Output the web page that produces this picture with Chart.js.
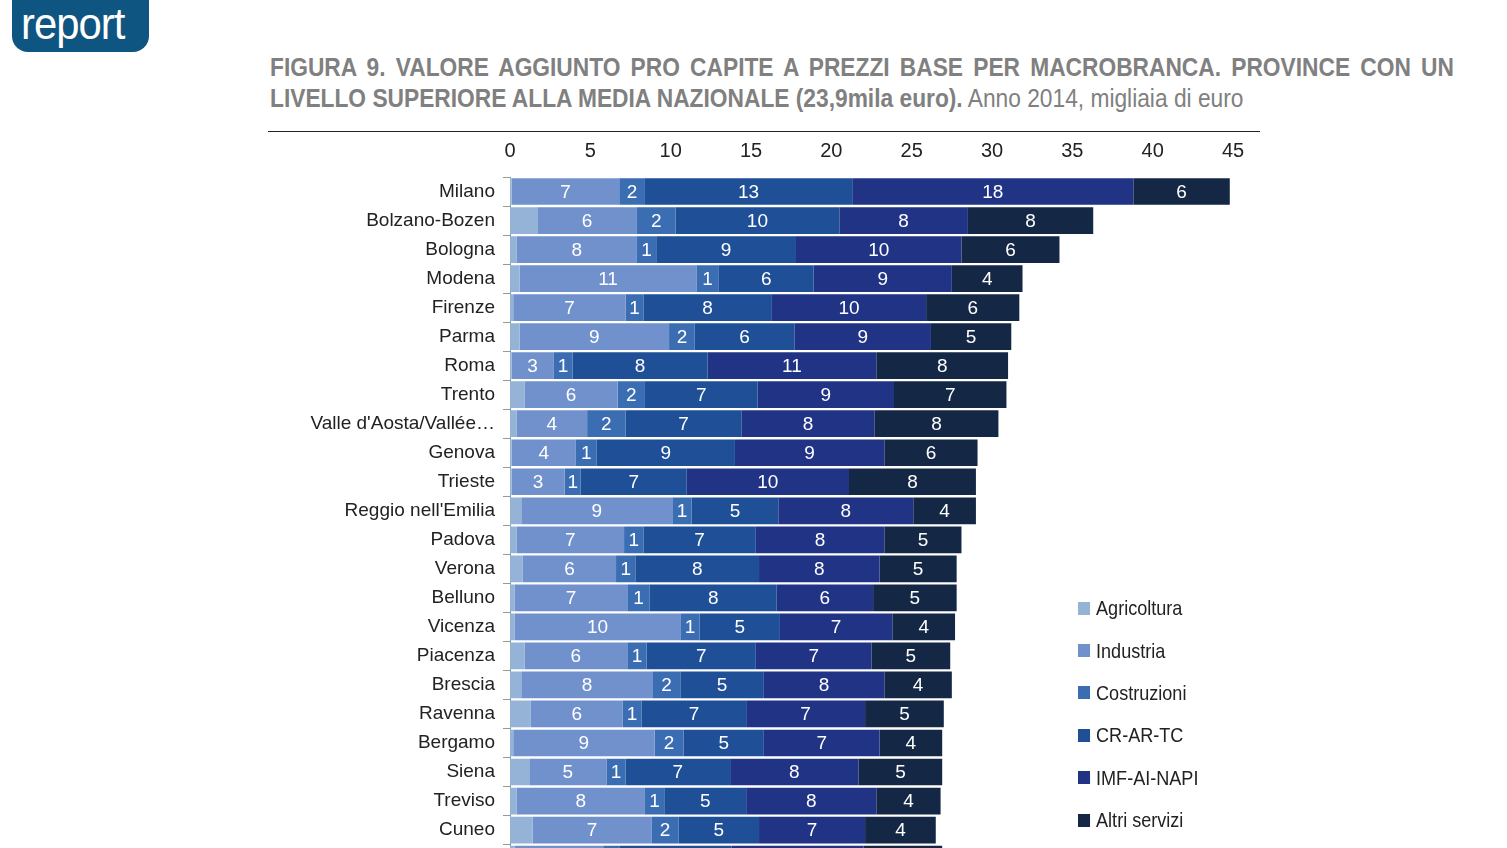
<!DOCTYPE html>
<html>
<head>
<meta charset="utf-8">
<script src="https://cdn.jsdelivr.net/npm/chart.js@4"></script>
<style>
  body { margin:0; width:1507px; height:848px; overflow:hidden; background:#fff; font-family:"Liberation Sans",Arial,sans-serif; position:relative; }
  #logo { position:absolute; left:12px; top:-20px; width:137px; height:72px; background:#0f5581; border-radius:0 0 16px 16px; color:#fff; font-weight:300; font-size:44px; line-height:1; }
  #logo span { position:absolute; left:9px; bottom:6px; letter-spacing:-1px; transform:scaleX(0.95); transform-origin:left; }
  #title { position:absolute; left:270px; top:52px; width:1301px; color:#808080; font-size:25px; line-height:31px; transform:scaleX(0.91); transform-origin:left top; white-space:nowrap; }
  #title .l1 { text-align:justify; text-align-last:justify; font-weight:bold; }
  #rule { position:absolute; left:268px; top:131px; width:992px; height:1px; background:#222; }
  #wrap { position:absolute; left:270px; top:125px; width:1000px; height:768px; }
  #legend { position:absolute; left:1078px; top:587px; font-size:21px; color:#222; transform:scaleX(0.86); transform-origin:left top; }
  #legend div { height:42.4px; display:flex; align-items:center; }
  #legend i { display:inline-block; width:14px; height:13px; margin-right:7px; }
</style>
</head>
<body>
<div id="logo"><span>report</span></div>
<div id="title">
  <div class="l1">FIGURA 9. VALORE AGGIUNTO PRO CAPITE A PREZZI BASE PER MACROBRANCA. PROVINCE CON UN</div>
  <div><b>LIVELLO SUPERIORE ALLA MEDIA NAZIONALE (23,9mila euro).</b> Anno 2014, migliaia di euro</div>
</div>
<div id="rule"></div>
<div id="wrap"><canvas id="chart"></canvas></div>
<div id="legend"></div>
<script>
const provinces = ["Milano","Bolzano-Bozen","Bologna","Modena","Firenze","Parma","Roma","Trento","Valle d'Aosta/Vallée…","Genova","Trieste","Reggio nell'Emilia","Padova","Verona","Belluno","Vicenza","Piacenza","Brescia","Ravenna","Bergamo","Siena","Treviso","Cuneo",""];
const agricoltura = [0.1,1.7,0.4,0.6,0.2,0.6,0.1,0.9,0.4,0.1,0.1,0.7,0.4,0.8,0.3,0.3,0.9,0.7,1.3,0.2,1.2,0.4,1.4,0.3];
const industria   = [6.7,6.2,7.5,11.0,7.0,9.3,2.6,5.8,4.4,4.0,3.3,9.4,6.7,5.8,7.0,10.3,6.4,8.2,5.7,8.8,4.8,8.0,7.4,5.5];
const costruzioni = [1.6,2.4,1.2,1.4,1.1,1.6,1.2,1.7,2.4,1.3,1.0,1.2,1.2,1.2,1.4,1.2,1.2,1.7,1.2,1.8,1.2,1.2,1.7,1.0];
const crArTc      = [12.9,10.2,8.7,5.9,8.0,6.2,8.4,7.0,7.2,8.6,6.6,5.4,7.0,7.7,7.9,5.0,6.8,5.2,6.5,5.0,6.5,5.1,5.0,7.0];
const imfAiNapi   = [17.5,8.0,10.3,8.6,9.6,8.5,10.5,8.5,8.3,9.3,10.1,8.4,8.0,7.5,6.0,7.0,7.2,7.5,7.4,7.2,8.0,8.1,6.6,8.2];
const altriServizi= [6.0,7.8,6.1,4.4,5.8,5.0,8.2,7.0,7.7,5.8,7.9,3.9,4.8,4.8,5.2,3.9,4.9,4.2,4.9,3.9,5.2,4.0,4.4,4.9];
const xTicks = [0,5,10,15,20,25,30,35,40,45];

const seriesNames = ["Agricoltura","Industria","Costruzioni","CR-AR-TC","IMF-AI-NAPI","Altri servizi"];
const seriesData = [agricoltura, industria, costruzioni, crArTc, imfAiNapi, altriServizi];
const colors = ["#95b3d7","#7191cd","#3b6db3","#1f4f96","#203384","#142846"];
const fontFam = '"Liberation Sans", Arial';

const legend = document.getElementById("legend");
seriesNames.forEach((n, i) => {
  legend.innerHTML += `<div><i style="background:${colors[i]}"></i>${n}</div>`;
});

// value labels in white, rounded, skipping agricoltura
const labelPlugin = {
  id: "labels",
  afterDatasetsDraw(chart) {
    const ctx = chart.ctx;
    ctx.save();
    ctx.fillStyle = "#fff";
    ctx.font = "19px " + fontFam;
    ctx.textAlign = "center";
    ctx.textBaseline = "middle";
    chart.data.datasets.forEach((ds, di) => {
      if (di === 0) return;
      chart.getDatasetMeta(di).data.forEach((bar, i) => {
        const v = Math.round(ds.data[i]);
        if (!v) return;
        ctx.fillText(v, (bar.x + bar.base) / 2, bar.y + 1);
      });
    });
    ctx.restore();
  }
};

new Chart(document.getElementById("chart"), {
  type: "bar",
  data: {
    labels: provinces,
    datasets: seriesData.map((d, i) => ({
      label: seriesNames[i], data: d, backgroundColor: colors[i],
      categoryPercentage: 1, barPercentage: 0.92
    }))
  },
  options: {
    indexAxis: "y",
    responsive: true,
    maintainAspectRatio: false,
    animation: false,
    layout: { padding: { right: 37, top: 0 } },
    plugins: { legend: { display: false }, tooltip: { enabled: false } },
    scales: {
      x: {
        position: "top", stacked: true, min: 0, max: 45,
        afterBuildTicks: a => { a.ticks = xTicks.map(v => ({ value: v })); },
        grid: { display: false, drawTicks: false },
        border: { display: false },
        ticks: { color: "#222", font: { size: 20, family: fontFam }, padding: 14 }
      },
      y: {
        stacked: true,
        grid: { drawOnChartArea: false, tickLength: 7, color: "#999", offset: true },
        border: { color: "#999" },
        ticks: { color: "#222", font: { size: 19, family: fontFam }, padding: 8 },
        afterFit: a => { a.width = 240; }
      }
    }
  },
  plugins: [labelPlugin]
});
</script>
</body>
</html>
